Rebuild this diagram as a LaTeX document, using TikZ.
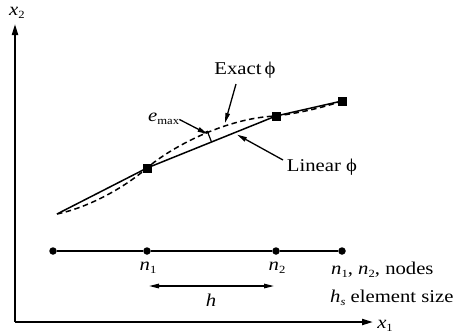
\documentclass[tikz,border=0pt]{standalone}
\usepackage{fontspec}
\setmainfont{Liberation Serif}
\newfontfamily\lblfont[FakeStretch=1.15]{Liberation Serif}
\usetikzlibrary{arrows.meta,calc}
\newcommand\lowsub[1]{\raisebox{-0.4ex}{\fontsize{11}{12}\selectfont #1}}
\tikzset{
  axisline/.style={line width=2pt,-{Triangle[length=11pt,width=6pt]}},
  curve/.style={line width=1.5pt},
  exact/.style={line width=1.5pt,dash pattern=on 5.5pt off 3.5pt},
  pointer/.style={line width=1.3pt,-{Triangle[length=10pt,width=4.5pt]}},
  sq/.style={fill=black,minimum size=9pt,inner sep=0pt,rectangle},
  dotnode/.style={fill=black,circle,minimum size=7.5pt,inner sep=0pt},
  lbl/.style={font=\lblfont\fontsize{18}{21}\selectfont,inner sep=0pt},
}
\begin{document}
\begin{tikzpicture}[x=1pt,y=-1pt]
\useasboundingbox (0,0) rectangle (457,333);
% axes
\coordinate (o) at (15,322);
\coordinate (ytop) at (15,24);
\coordinate (xend) at (373,322);
\draw[axisline] (o) -- (ytop);
\draw[axisline] (o) -- (xend);
\node[lbl] (x2) at (17,13) {\textit{x}\lowsub{2}};
\node[lbl] (x1) at (385,326) {\textit{x}\lowsub{1}};
% solid linear
\coordinate (a) at (57,214);
\node[sq] (s1) at (147,168) {};
\node[sq] (s2) at (276,116) {};
\node[sq] (s3) at (342,101) {};
\draw[curve] (a) -- (s1.center) -- (s2.center) -- (s3.center);
% dashed exact
\draw[exact] (a) .. controls (90,207) and (125,187) .. (s1.center)
  .. controls (170,148) and (225,118) .. (s2.center)
  .. controls (300,113) and (325,107) .. (s3.center);
% e max marker
\coordinate (ebot) at ($(s1.center)!0.5!(s2.center)$);
\coordinate (etop) at ($(ebot)+(-4.1,-10.6)$);
\coordinate (ehook) at ($(etop)+(-4.2,1.7)$);
\draw[line width=1.2pt] (ebot) -- (etop) -- (ehook);
% labels and pointers
\node[lbl] (ex) at (245,70) {Exact\,ϕ};
\coordinate (exhead) at (225,123);
\draw[pointer] (236,84) -- (exhead);
\node[lbl,anchor=base west] (em) at (148,121) {\textit{e}\lowsub{max}};
\draw[pointer] (em.east) ++(0,1) -- (207.5,134);
\node[lbl] (lin) at (322,167) {Linear ϕ};
\coordinate (linhead) at ($(s1.center)!0.69!(s2.center)$);
\draw[pointer] (283,160) -- ($(linhead)+(1,2.5)$);
% mesh line
\node[dotnode] (d0) at (53,251) {};
\node[dotnode] (d1) at (147,251) {};
\node[dotnode] (d2) at (276,251) {};
\node[dotnode] (d3) at (342,251) {};
\draw[curve] (d0) -- (d1) -- (d2) -- (d3);
\node[lbl] (n1) at (148,268) {\textit{n}\lowsub{1}};
\node[lbl] (n2) at (277,268) {\textit{n}\lowsub{2}};
\coordinate (hl) at (149,286);
\coordinate (hr) at (274,286);
\draw[line width=1.3pt,{Triangle[length=10pt,width=4.5pt]}-{Triangle[length=10pt,width=4.5pt]}] (hl) -- (hr);
\node[lbl] (h) at (211,300) {\textit{h}};
\node[lbl,anchor=west] (leg1) at (331,270) {\textit{n}\lowsub{1}, \textit{n}\lowsub{2}, nodes};
\node[lbl,anchor=west] (leg2) at (330,298) {\textit{h}\lowsub{\textit{s}} element size};
\end{tikzpicture}
\end{document}
